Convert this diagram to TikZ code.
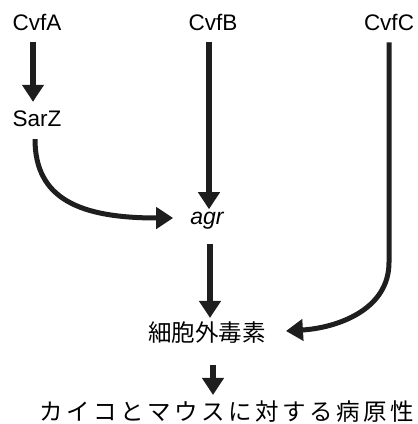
\documentclass[tikz,border=0pt]{standalone}
\usepackage{fontspec}
\setmainfont{Liberation Sans}
\newfontfamily\jp{Noto Sans CJK JP}
\newfontfamily\jpw{Noto Sans CJK JP}[LetterSpace=15]
\usetikzlibrary{arrows.meta}
\definecolor{ink}{HTML}{1E1E1E}
\begin{document}
\begin{tikzpicture}[x=1pt,y=-1pt,
  lbl/.style={inner sep=0pt, font=\fontsize{22.5}{24}\selectfont},
  jlbl/.style={inner sep=0pt, font=\jp\fontsize{23.5}{26}\selectfont},
  arr/.style={draw=ink, line width=6pt, -{Triangle[width=21pt,length=17pt]}},
  thinarr/.style={draw=ink, line width=5pt, -{Triangle[width=21pt,length=17pt]}}]
\useasboundingbox (0,0) rectangle (418,424);
\node[lbl] (cvfa) at (37,22) {CvfA};
\node[lbl] (cvfb) at (213,22) {CvfB};
\node[lbl] (cvfc) at (389,22) {CvfC};
\node[lbl] (sarz) at (37,119) {SarZ};
\node[lbl, font=\itshape\fontsize{23}{24}\selectfont] (agr) at (207,221) {agr};
\node[jlbl] (toxin) at (207,333) {細胞外毒素};
\node[inner sep=0pt, font=\jpw\fontsize{23.5}{26}\selectfont] (path) at (227,412) {カイコとマウスに対する病原性};
% CvfA -> SarZ
\draw[arr] ([xshift=-4pt,yshift=-12pt]cvfa.south) -- ([xshift=-4pt,yshift=9pt]sarz.north);
% CvfB -> agr
\draw[arr, shorten >=15pt] ([xshift=-4pt,yshift=-12pt]cvfb.south) -- ([xshift=-4pt,yshift=-12pt]cvfb.south |- agr.north);
% SarZ -> agr
\draw[thinarr] ([xshift=-2pt,yshift=-12pt]sarz.south) .. controls +(0,60) and +(-93,0) .. ([xshift=-17pt,yshift=3pt]agr.west);
% agr -> toxin
\draw[arr, shorten >=18pt] ([xshift=3pt,yshift=-14pt]agr.south) -- ([xshift=3pt,yshift=-14pt]agr.south |- toxin.north);
% CvfC -> toxin
\draw[thinarr] ([yshift=-12pt]cvfc.south) -- ++(0,220) .. controls +(0,48) and +(50,-3) .. ([xshift=20pt,yshift=2pt]toxin.east);
% toxin -> pathogenicity
\draw[arr, shorten >=27pt] ([xshift=6pt,yshift=-21pt]toxin.south) -- ([xshift=6pt,yshift=-21pt]toxin.south |- path.north);
\end{tikzpicture}
\end{document}
